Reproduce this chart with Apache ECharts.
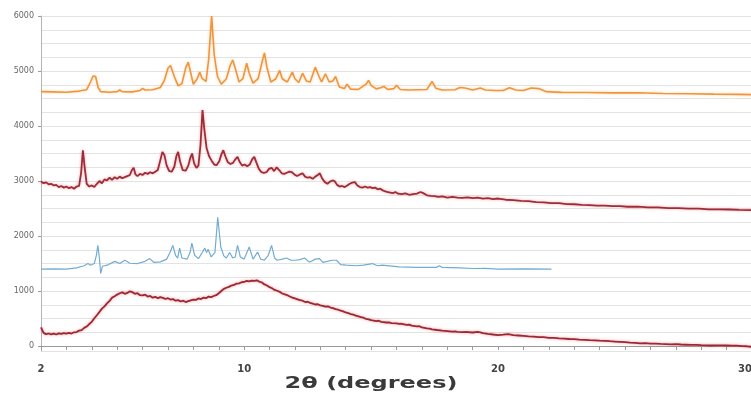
<!DOCTYPE html>
<html>
<head>
<meta charset="utf-8">
<script src="https://cdn.jsdelivr.net/npm/echarts@6/dist/echarts.min.js"></script>
<style>
  html, body { margin: 0; padding: 0; background: #fff; }
  #chart { width: 751px; height: 394px; }
</style>
</head>
<body>
<div id="chart"></div>
<script>
// Powder X-ray diffraction patterns, stacked with vertical offsets.
// Each pattern is a list of [2θ (degrees), intensity (counts)] pairs.

const xTickLabels = [2, 10, 20, 30];
const yTickLabels = [0, 1000, 2000, 3000, 4000, 5000, 6000];
const xAxisTitle = '2θ (degrees)';

const patternTop = [
  [2.0,4625],[2.5,4620],[3.0,4615],[3.5,4635],[3.8,4660],[3.95,4800],[4.05,4910],[4.15,4900],[4.25,4700],[4.35,4625],
  [4.7,4615],[5.0,4625],[5.1,4655],[5.2,4625],[5.6,4620],[5.9,4645],[6.0,4685],[6.1,4655],[6.4,4660],[6.7,4700],
  [6.85,4820],[7.0,5050],[7.1,5100],[7.25,4900],[7.4,4730],[7.55,4770],[7.7,5060],[7.8,5160],[7.9,4960],[8.0,4760],
  [8.15,4860],[8.25,4980],[8.35,4860],[8.5,4810],[8.6,5200],[8.72,6000],[8.82,5300],[8.95,4900],[9.1,4760],[9.3,4860],
  [9.45,5100],[9.55,5200],[9.65,5050],[9.8,4800],[9.95,4860],[10.1,5140],[10.2,4960],[10.35,4780],[10.55,4860],[10.7,5150],
  [10.8,5330],[10.9,5060],[11.05,4800],[11.25,4860],[11.4,5010],[11.5,4860],[11.7,4800],[11.9,4980],[12.0,4860],[12.15,4790],
  [12.3,4960],[12.45,4820],[12.6,4800],[12.8,5070],[12.95,4900],[13.05,4800],[13.2,4950],[13.35,4800],[13.5,4820],[13.6,4900],
  [13.75,4710],[13.95,4680],[14.05,4760],[14.2,4670],[14.5,4665],[14.8,4760],[14.9,4830],[15.0,4740],[15.2,4675],[15.4,4700],
  [15.5,4720],[15.65,4665],[15.9,4680],[16.0,4740],[16.15,4665],[16.5,4655],[17.2,4665],[17.4,4810],[17.55,4685],[17.8,4655],
  [18.3,4660],[18.5,4700],[18.7,4690],[19.0,4655],[19.3,4690],[19.5,4655],[19.9,4645],[20.2,4645],[20.45,4695],[20.7,4655],
  [21.0,4645],[21.3,4690],[21.6,4680],[21.9,4625],[22.5,4612],[23.5,4610],[24.5,4602],[25.5,4606],[26.5,4592],[27.5,4586],
  [28.5,4580],[29.5,4576],[30.0,4570]
];

const patternSecond = [
  [2.0,2990],[2.1,2960],[2.2,2975],[2.3,2940],[2.4,2950],[2.5,2920],[2.6,2930],[2.7,2890],[2.8,2910],[2.9,2880],
  [3.0,2900],[3.1,2870],[3.2,2890],[3.3,2860],[3.4,2900],[3.5,2910],[3.58,3150],[3.65,3560],[3.72,3250],[3.8,2950],
  [3.9,2900],[4.0,2920],[4.1,2890],[4.2,2950],[4.3,3000],[4.4,2960],[4.5,3030],[4.6,3010],[4.7,3060],[4.8,3020],
  [4.9,3070],[5.0,3040],[5.1,3080],[5.2,3050],[5.3,3070],[5.4,3090],[5.5,3110],[5.58,3200],[5.65,3240],[5.72,3120],
  [5.8,3090],[5.9,3130],[6.0,3110],[6.1,3150],[6.2,3130],[6.3,3160],[6.4,3140],[6.5,3170],[6.6,3200],[6.7,3380],
  [6.78,3530],[6.86,3470],[6.95,3280],[7.05,3180],[7.15,3170],[7.25,3260],[7.33,3450],[7.4,3530],[7.48,3350],[7.58,3200],
  [7.7,3190],[7.8,3280],[7.88,3420],[7.95,3500],[8.03,3320],[8.12,3240],[8.2,3280],[8.28,3650],[8.36,4290],[8.43,3950],
  [8.52,3600],[8.62,3450],[8.72,3370],[8.82,3300],[8.92,3290],[9.02,3360],[9.1,3480],[9.18,3560],[9.26,3450],[9.36,3340],
  [9.46,3310],[9.56,3330],[9.66,3400],[9.74,3440],[9.82,3350],[9.92,3280],[10.02,3300],[10.12,3270],[10.22,3300],[10.32,3400],
  [10.4,3440],[10.48,3340],[10.58,3220],[10.68,3160],[10.78,3150],[10.88,3160],[10.98,3220],[11.08,3240],[11.18,3180],[11.28,3250],
  [11.38,3200],[11.48,3140],[11.58,3130],[11.68,3150],[11.78,3170],[11.88,3160],[11.98,3120],[12.08,3090],[12.2,3120],[12.3,3140],
  [12.4,3080],[12.5,3060],[12.6,3070],[12.7,3040],[12.8,3080],[12.9,3110],[12.98,3140],[13.08,3040],[13.18,2980],[13.28,2950],
  [13.38,2990],[13.48,3010],[13.56,3000],[13.66,2930],[13.76,2900],[13.86,2910],[13.96,2890],[14.06,2920],[14.16,2950],[14.26,2970],
  [14.36,2980],[14.46,2920],[14.56,2890],[14.66,2880],[14.76,2900],[14.86,2880],[14.96,2890],[15.06,2870],[15.16,2880],[15.26,2850],
  [15.36,2860],[15.46,2830],[15.56,2810],[15.66,2800],[15.76,2790],[15.86,2780],[15.96,2800],[16.06,2770],[16.2,2760],[16.35,2775],
  [16.5,2750],[16.65,2760],[16.8,2770],[16.95,2800],[17.05,2780],[17.2,2740],[17.35,2730],[17.5,2725],[17.65,2710],[17.8,2722],
  [18.0,2700],[18.2,2712],[18.4,2698],[18.6,2692],[18.8,2704],[19.0,2688],[19.2,2697],[19.4,2680],[19.6,2688],[19.8,2672],
  [20.0,2682],[20.3,2660],[20.6,2654],[20.9,2638],[21.2,2634],[21.5,2618],[21.8,2612],[22.1,2598],[22.4,2597],[22.7,2580],
  [23.0,2578],[23.3,2566],[23.6,2562],[23.9,2552],[24.2,2553],[24.5,2542],[24.8,2543],[25.1,2532],[25.5,2534],[25.9,2522],
  [26.3,2522],[26.7,2508],[27.1,2508],[27.5,2498],[27.9,2497],[28.3,2486],[28.7,2484],[29.1,2482],[29.5,2474],[30.0,2470]
];

const patternThird = [
  [2.0,1400],[2.5,1402],[3.0,1400],[3.4,1420],[3.7,1460],[3.85,1500],[3.95,1470],[4.1,1500],[4.18,1650],[4.24,1830],
  [4.3,1600],[4.35,1320],[4.42,1450],[4.6,1470],[4.91,1540],[5.1,1500],[5.3,1560],[5.5,1505],[5.8,1500],[6.1,1540],
  [6.28,1590],[6.45,1520],[6.7,1530],[6.95,1580],[7.08,1700],[7.19,1830],[7.3,1650],[7.38,1600],[7.46,1780],[7.55,1600],
  [7.75,1580],[7.87,1700],[7.94,1870],[8.05,1650],[8.2,1590],[8.35,1700],[8.45,1780],[8.52,1700],[8.58,1760],[8.7,1620],
  [8.85,1700],[8.96,2340],[9.08,1800],[9.2,1640],[9.3,1600],[9.43,1700],[9.55,1600],[9.65,1620],[9.74,1830],[9.85,1620],
  [10.0,1580],[10.2,1800],[10.35,1580],[10.53,1710],[10.65,1580],[10.8,1560],[10.95,1650],[11.08,1830],[11.2,1600],[11.3,1560],
  [11.5,1580],[11.67,1600],[11.85,1560],[12.0,1560],[12.2,1570],[12.38,1600],[12.55,1530],[12.65,1540],[12.8,1580],[12.97,1590],
  [13.1,1520],[13.28,1540],[13.45,1560],[13.64,1560],[13.8,1480],[14.03,1470],[14.4,1460],[14.7,1470],[15.05,1500],[15.25,1460],
  [15.44,1470],[16.1,1440],[16.8,1430],[17.57,1430],[17.68,1460],[17.8,1430],[18.5,1420],[19.0,1410],[19.5,1412],[20.0,1400],
  [21.0,1402],[22.1,1398]
];

const patternBottom = [
  [2.0,340],[2.1,240],[2.2,215],[2.3,228],[2.4,212],[2.5,225],[2.6,210],[2.7,230],[2.8,220],[2.9,236],
  [3.0,226],[3.1,240],[3.2,228],[3.3,250],[3.4,255],[3.5,280],[3.6,290],[3.7,330],[3.8,355],[3.9,400],
  [4.0,440],[4.1,505],[4.2,560],[4.3,620],[4.4,680],[4.5,720],[4.6,775],[4.7,820],[4.8,880],[4.9,905],
  [5.0,935],[5.1,960],[5.2,975],[5.3,950],[5.4,965],[5.5,995],[5.6,980],[5.7,950],[5.8,960],[5.9,925],
  [6.0,920],[6.1,935],[6.2,900],[6.3,910],[6.4,880],[6.5,895],[6.6,870],[6.7,890],[6.8,875],[6.9,855],
  [7.0,870],[7.1,845],[7.2,855],[7.3,825],[7.4,835],[7.5,810],[7.6,825],[7.7,800],[7.8,815],[7.9,830],
  [8.0,845],[8.1,840],[8.2,865],[8.3,855],[8.4,880],[8.5,870],[8.6,900],[8.7,890],[8.8,910],[8.9,925],
  [9.0,960],[9.1,1000],[9.2,1040],[9.3,1060],[9.4,1075],[9.5,1100],[9.6,1110],[9.7,1135],[9.8,1140],[9.9,1160],
  [10.0,1165],[10.1,1185],[10.2,1175],[10.3,1190],[10.4,1185],[10.5,1195],[10.6,1170],[10.7,1155],[10.8,1120],[10.9,1100],
  [11.0,1070],[11.1,1050],[11.2,1020],[11.3,1005],[11.4,985],[11.5,955],[11.6,940],[11.7,925],[11.8,900],[11.9,880],
  [12.0,865],[12.1,850],[12.2,835],[12.3,825],[12.4,800],[12.5,805],[12.6,785],[12.7,770],[12.8,755],[12.9,760],
  [13.0,740],[13.1,730],[13.2,715],[13.3,720],[13.4,700],[13.5,690],[13.6,670],[13.7,660],[13.8,645],[13.9,630],
  [14.0,610],[14.1,600],[14.2,580],[14.3,570],[14.4,555],[14.5,540],[14.6,525],[14.7,515],[14.8,495],[14.9,485],
  [15.0,470],[15.2,455],[15.3,460],[15.4,440],[15.6,428],[15.7,432],[15.8,418],[16.0,412],[16.1,402],[16.2,405],
  [16.4,385],[16.5,390],[16.6,370],[16.8,358],[16.9,360],[17.0,340],[17.2,322],[17.3,318],[17.4,305],[17.6,292],
  [17.8,280],[18.0,272],[18.2,262],[18.3,268],[18.4,256],[18.6,252],[18.8,255],[19.0,246],[19.2,258],[19.3,250],
  [19.4,236],[19.6,222],[19.8,210],[20.0,200],[20.2,206],[20.4,215],[20.6,198],[20.8,192],[21.0,186],[21.2,176],
  [21.4,172],[21.6,164],[21.8,161],[22.0,150],[22.2,148],[22.4,140],[22.6,136],[22.8,128],[23.0,126],[23.2,118],
  [23.4,112],[23.6,106],[23.8,104],[24.0,98],[24.2,95],[24.4,88],[24.6,82],[24.8,76],[25.0,70],[25.2,62],
  [25.4,58],[25.6,50],[25.8,52],[26.0,45],[26.2,44],[26.4,38],[26.6,36],[26.8,32],[27.0,34],[27.2,28],
  [27.4,24],[27.6,20],[27.8,22],[28.0,15],[28.2,14],[28.4,10],[28.6,14],[28.8,12],[29.0,10],[29.2,8],
  [29.4,6],[29.6,0],[29.8,-4],[30.0,-15]
];

const chart = echarts.init(document.getElementById('chart'), null, { renderer: 'canvas' });

function trace(data, color, width, glow) {
  return {
    type: 'line',
    data: data,
    xAxisIndex: 0,
    yAxisIndex: 0,
    symbol: 'none',
    smooth: false,
    silent: true,
    animation: false,
    lineStyle: {
      color: color,
      width: width,
      shadowColor: glow,
      shadowBlur: glow ? 3 : 0
    }
  };
}

chart.setOption({
  animation: false,
  backgroundColor: '#ffffff',
  grid: {
    left: 41,
    right: -1,
    top: 16,
    bottom: 43,
    containLabel: false,
    outerBoundsMode: 'none'
  },
  // wide bold axis title under the 2θ axis
  graphic: [{
    type: 'text',
    x: 371,
    y: 384,
    scaleX: 1.5,
    silent: true,
    style: {
      text: xAxisTitle,
      font: 'bold 16px "DejaVu Sans"',
      fill: '#3a3a3a',
      align: 'center',
      verticalAlign: 'middle'
    }
  }],
  xAxis: {
    type: 'value',
    min: 2,
    max: 30,
    interval: 1,
    axisLine: { show: true, lineStyle: { color: '#9a9a9a', width: 1 } },
    axisTick: { show: true, length: 4, lineStyle: { color: '#9a9a9a' } },
    axisLabel: {
      show: true,
      margin: 13,
      fontFamily: 'DejaVu Sans',
      fontWeight: 'bold',
      fontSize: 10,
      color: '#444',
      alignMaxLabel: 'right',
      formatter: function (v) {
        return xTickLabels.indexOf(Math.round(v * 1000) / 1000) >= 0 ? String(v) : '';
      }
    },
    splitLine: { show: false }
  },
  yAxis: [
    {
      type: 'value',
      min: -90,
      max: 6000,
      position: 'left',
      axisLine: { show: true, lineStyle: { color: '#b5b5b5', width: 1 } },
      axisTick: { show: true, length: 3, customValues: yTickLabels, lineStyle: { color: '#9a9a9a' } },
      axisLabel: {
        show: true,
        margin: 7,
        fontFamily: 'DejaVu Sans',
        fontSize: 8,
        color: '#666',
        customValues: yTickLabels,
        formatter: function (v) { return String(v); }
      },
      splitLine: { show: false }
    },
    {
      // horizontal grid lines, stepped down from the top of the plot
      type: 'value',
      inverse: true,
      min: 0,
      max: 6090,
      interval: 250,
      position: 'right',
      axisLine: { show: false },
      axisTick: { show: false },
      axisLabel: { show: false },
      splitLine: { show: true, lineStyle: { color: '#e3e3e3', width: 1 } }
    }
  ],
  series: [
    trace(patternBottom, '#9c2833', 1.8, 'rgba(235,80,90,0.55)'),
    trace(patternThird, '#72acd2', 1.2, null),
    trace(patternSecond, '#9e2d38', 1.8, 'rgba(235,100,110,0.55)'),
    trace(patternTop, '#ef953f', 1.6, 'rgba(250,190,120,0.6)')
  ]
});
</script>
</body>
</html>
